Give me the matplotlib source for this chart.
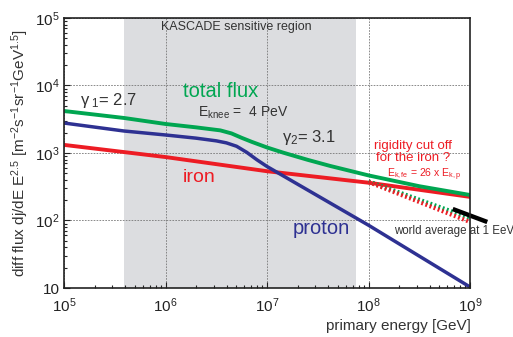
import numpy as np
import matplotlib
matplotlib.use('Agg')
import matplotlib.pyplot as plt
from matplotlib.ticker import FixedLocator, LogLocator, FuncFormatter, NullFormatter

plt.rcParams['font.family'] = ['Liberation Sans', 'DejaVu Sans']
plt.rcParams['mathtext.fontset'] = 'custom'
plt.rcParams['mathtext.rm'] = 'Liberation Sans'
plt.rcParams['mathtext.it'] = 'Liberation Sans:italic'
plt.rcParams['mathtext.default'] = 'regular'

# energies as log10(E/GeV) and E^2.5 weighted fluxes
proton_logE = [5.0, 5.59, 6.0, 6.3, 6.5, 6.6, 6.7, 6.8, 6.9, 7.0, 8.0, 9.0]
proton_logF = [3.444, 3.326, 3.267, 3.22, 3.18, 3.15, 3.10, 3.01, 2.90, 2.80, 1.93, 1.015]

total_logE = [5.0, 5.59, 6.0, 6.3, 6.54, 6.65, 6.75, 6.85, 7.0, 7.16, 7.4, 7.62, 8.0, 8.5, 9.0]
total_logF = [3.622, 3.519, 3.43, 3.38, 3.335, 3.29, 3.225, 3.165, 3.082, 3.005, 2.899,
              2.809, 2.668, 2.508, 2.378]

iron_logE = [5.0, 6.0, 7.0, 8.0, 9.0]
iron_logF = [3.12, 2.94, 2.73, 2.56, 2.35]

# possible rigidity cut off of iron (hatched)
cut_logE = [8.0, 9.0]
cut_iron_logF = [2.57, 1.978]
cut_total_logF = [2.58, 2.037]

# world average at 1 EeV
world_logE = [8.83, 9.17]
world_logF = [2.17, 1.978]

kascade_range = [3.9e5, 7.5e7]

green = '#00a651'
red = '#ed1c24'
blue = '#2e3192'
dark = '#333333'

fig = plt.figure(figsize=(5.13, 3.37), dpi=100)
ax = fig.add_axes([0.1248, 0.1454, 0.7914, 0.8012])

ax.axvspan(kascade_range[0], kascade_range[1], color='#dcdde0', zorder=0, lw=0)

def p(l):
    return 10 ** np.array(l)

ax.plot(p(iron_logE), p(iron_logF), color=red, lw=2.8, zorder=3)
ax.plot(p(total_logE), p(total_logF), color=green, lw=2.8, zorder=4)
ax.plot(p(proton_logE), p(proton_logF), color=blue, lw=2.5, zorder=3)
ax.plot(p(cut_logE), p(cut_total_logF), color=green, lw=3.0, ls=(0, (0.45, 0.6)), zorder=3)
ax.plot(p(cut_logE), p(cut_iron_logF), color=red, lw=3.0, ls=(0, (0.45, 0.6)), zorder=3)
ax.plot(p(world_logE), p(world_logF), color='black', lw=3.2, zorder=5, clip_on=False,
        solid_capstyle='butt')

ax.set_xscale('log')
ax.set_yscale('log')
ax.set_xlim(1e5, 1e9)
ax.set_ylim(10, 1e5)

def fmt(v, pos):
    e = int(round(np.log10(v)))
    if e == 1:
        return '10'
    return r'$10^{%d}$' % e

ax.xaxis.set_major_locator(FixedLocator([1e5, 1e6, 1e7, 1e8, 1e9]))
ax.yaxis.set_major_locator(FixedLocator([10, 1e2, 1e3, 1e4, 1e5]))
ax.xaxis.set_major_formatter(FuncFormatter(fmt))
ax.yaxis.set_major_formatter(FuncFormatter(fmt))
ax.xaxis.set_minor_locator(LogLocator(base=10, subs=np.arange(2, 10)))
ax.yaxis.set_minor_locator(LogLocator(base=10, subs=np.arange(2, 10)))
ax.xaxis.set_minor_formatter(NullFormatter())
ax.yaxis.set_minor_formatter(NullFormatter())
ax.tick_params(which='both', direction='in', colors='#222222', labelsize=11, width=0.8)
ax.tick_params(which='major', length=4, pad=3)
ax.tick_params(which='minor', length=2.5)
ax.tick_params(axis='x', pad=6)

ax.grid(True, which='major', color='#777777', ls=(0, (2, 1.5)), lw=0.6, zorder=1)
for s in ax.spines.values():
    s.set_linewidth(1.2)
    s.set_color('#222222')
    s.set_zorder(6)

tr = ax.transAxes
ax.text(0.424, 0.967, 'KASCADE sensitive region', transform=tr, ha='center', va='center',
        fontsize=9, color=dark)
ax.text(0.293, 0.726, 'total flux', transform=tr, ha='left', va='center',
        fontsize=14.5, color=green)
ax.text(0.330, 0.648, r'E$_{knee}$ =  4 PeV', transform=tr, ha='left', va='center',
        fontsize=10, color=dark)
ax.text(0.039, 0.696, r'γ$_{\ 1}$= 2.7', transform=tr, ha='left', va='center',
        fontsize=12, color=dark)
ax.text(0.537, 0.556, r'γ$_2$= 3.1', transform=tr, ha='left', va='center',
        fontsize=12, color=dark)
ax.text(0.293, 0.411, 'iron', transform=tr, ha='left', va='center',
        fontsize=14, color=red)
ax.text(0.564, 0.219, 'proton', transform=tr, ha='left', va='center',
        fontsize=14.5, color=blue)
ax.text(0.860, 0.503, 'rigidity cut off\nfor the iron ?', transform=tr, ha='center',
        va='center', fontsize=9.5, color=red, linespacing=1.05)
ax.text(0.796, 0.420, r'E$_{k,fe}$ = 26 x E$_{k,p}$', transform=tr, ha='left',
        va='center', fontsize=7.5, color=red)
ax.text(0.813, 0.211, 'world average at 1 EeV', transform=tr, ha='left', va='center',
        fontsize=8.3, color=dark, clip_on=False)

fig.text(0.918, 0.012, 'primary energy [GeV]', ha='right', va='bottom',
         fontsize=11, color=dark)
fig.text(0.04, 0.5460,
         r'diff flux dj/dE E$^{2.5}$ [m$^{-2}$s$^{-1}$sr$^{-1}$GeV$^{1.5}$]',
         rotation=90, ha='center', va='center', fontsize=11, color=dark)

fig.savefig('out.png', dpi=100)
